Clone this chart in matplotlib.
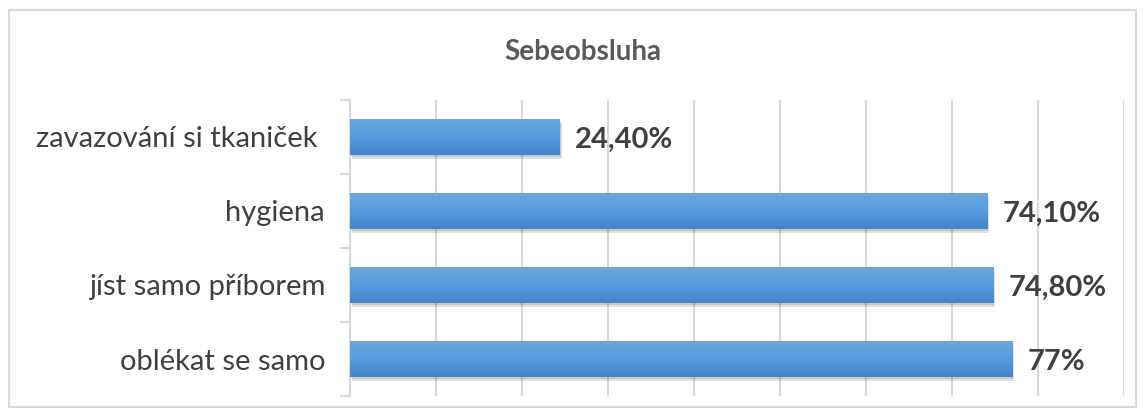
import numpy as np
import matplotlib.pyplot as plt
from matplotlib.patches import Rectangle
from matplotlib.colors import LinearSegmentedColormap

plt.rcParams['font.family'] = ['Lato', 'DejaVu Sans']

# data (bottom to top)
Categories = ['oblékat se samo', 'jíst samo příborem', 'hygiena', 'zavazování si tkaniček ']
Values = [0.77, 0.748, 0.741, 0.244]
ValueLabels = ['77%', '74,80%', '74,10%', '24,40%']
Title = 'Sebeobsluha'

GridColor = '#d9d9d9'
TextColor = '#404040'

Figure = plt.figure(figsize=(11.46, 4.16), dpi=100)
Axes = Figure.add_axes([350/1146, 1-396/416, 774/1146, 296/416])

y = np.arange(len(Categories))
BarHeight = 0.49

# gradient for bar fill
Gradient = np.linspace(0, 1, 256).reshape(-1, 1)
BarCmap = LinearSegmentedColormap.from_list('bar', ['#4385c8', '#559ddf', '#6ea8dc'])

Bars = Axes.barh(y, Values, height=BarHeight, color='none', edgecolor='none', zorder=3)
for Bar in Bars:
    x0, y0 = Bar.get_x(), Bar.get_y()
    w, h = Bar.get_width(), Bar.get_height()
    # shadow
    Axes.add_patch(Rectangle((x0+0.002, y0-0.05), w, h, color='#000000', alpha=0.12, zorder=2, lw=0))
    Axes.add_patch(Rectangle((x0+0.001, y0-0.025), w, h, color='#000000', alpha=0.10, zorder=2, lw=0))
    Image = Axes.imshow(Gradient, cmap=BarCmap, aspect='auto', extent=[x0, x0+w, y0, y0+h],
                        origin='lower', zorder=3)
    Image.set_clip_path(Bar)

for yi, v, lab in zip(y, Values, ValueLabels):
    Axes.annotate(lab, (v, yi), xytext=(11, -2), textcoords='offset points', va='center', ha='left',
                  fontsize=21, fontweight='bold', color=TextColor)

Axes.set_xlim(0, 0.9)
Axes.set_ylim(-0.5, len(Categories)-0.5)
Axes.set_xticks(np.arange(0, 0.91, 0.1))
Axes.set_xticklabels([])
Axes.tick_params(axis='x', length=0)
Axes.grid(axis='x', color=GridColor, linewidth=1.5, zorder=0)
Axes.set_axisbelow(True)

Axes.set_yticks(y)
Axes.set_yticklabels(Categories, fontsize=21, color=TextColor)
Axes.set_yticks(np.arange(-0.5, len(Categories), 1), minor=True)
Axes.tick_params(axis='y', which='major', length=0, pad=18)
Axes.tick_params(axis='y', which='minor', length=7, color=GridColor, width=1.5)

for s in ['top', 'right', 'bottom']:
    Axes.spines[s].set_visible(False)
Axes.spines['left'].set_color(GridColor)
Axes.spines['left'].set_linewidth(1.5)

Figure.text(583/1146, 1-52/416, Title, ha='center', va='center', fontsize=20,
            fontweight='bold', color='#595959')

Figure.patches.append(Rectangle((9/1146, 9/416), 1127/1146, 397/416, transform=Figure.transFigure,
                                fill=False, edgecolor=GridColor, linewidth=1.5))

Figure.savefig('out.png', dpi=100, facecolor='white')
